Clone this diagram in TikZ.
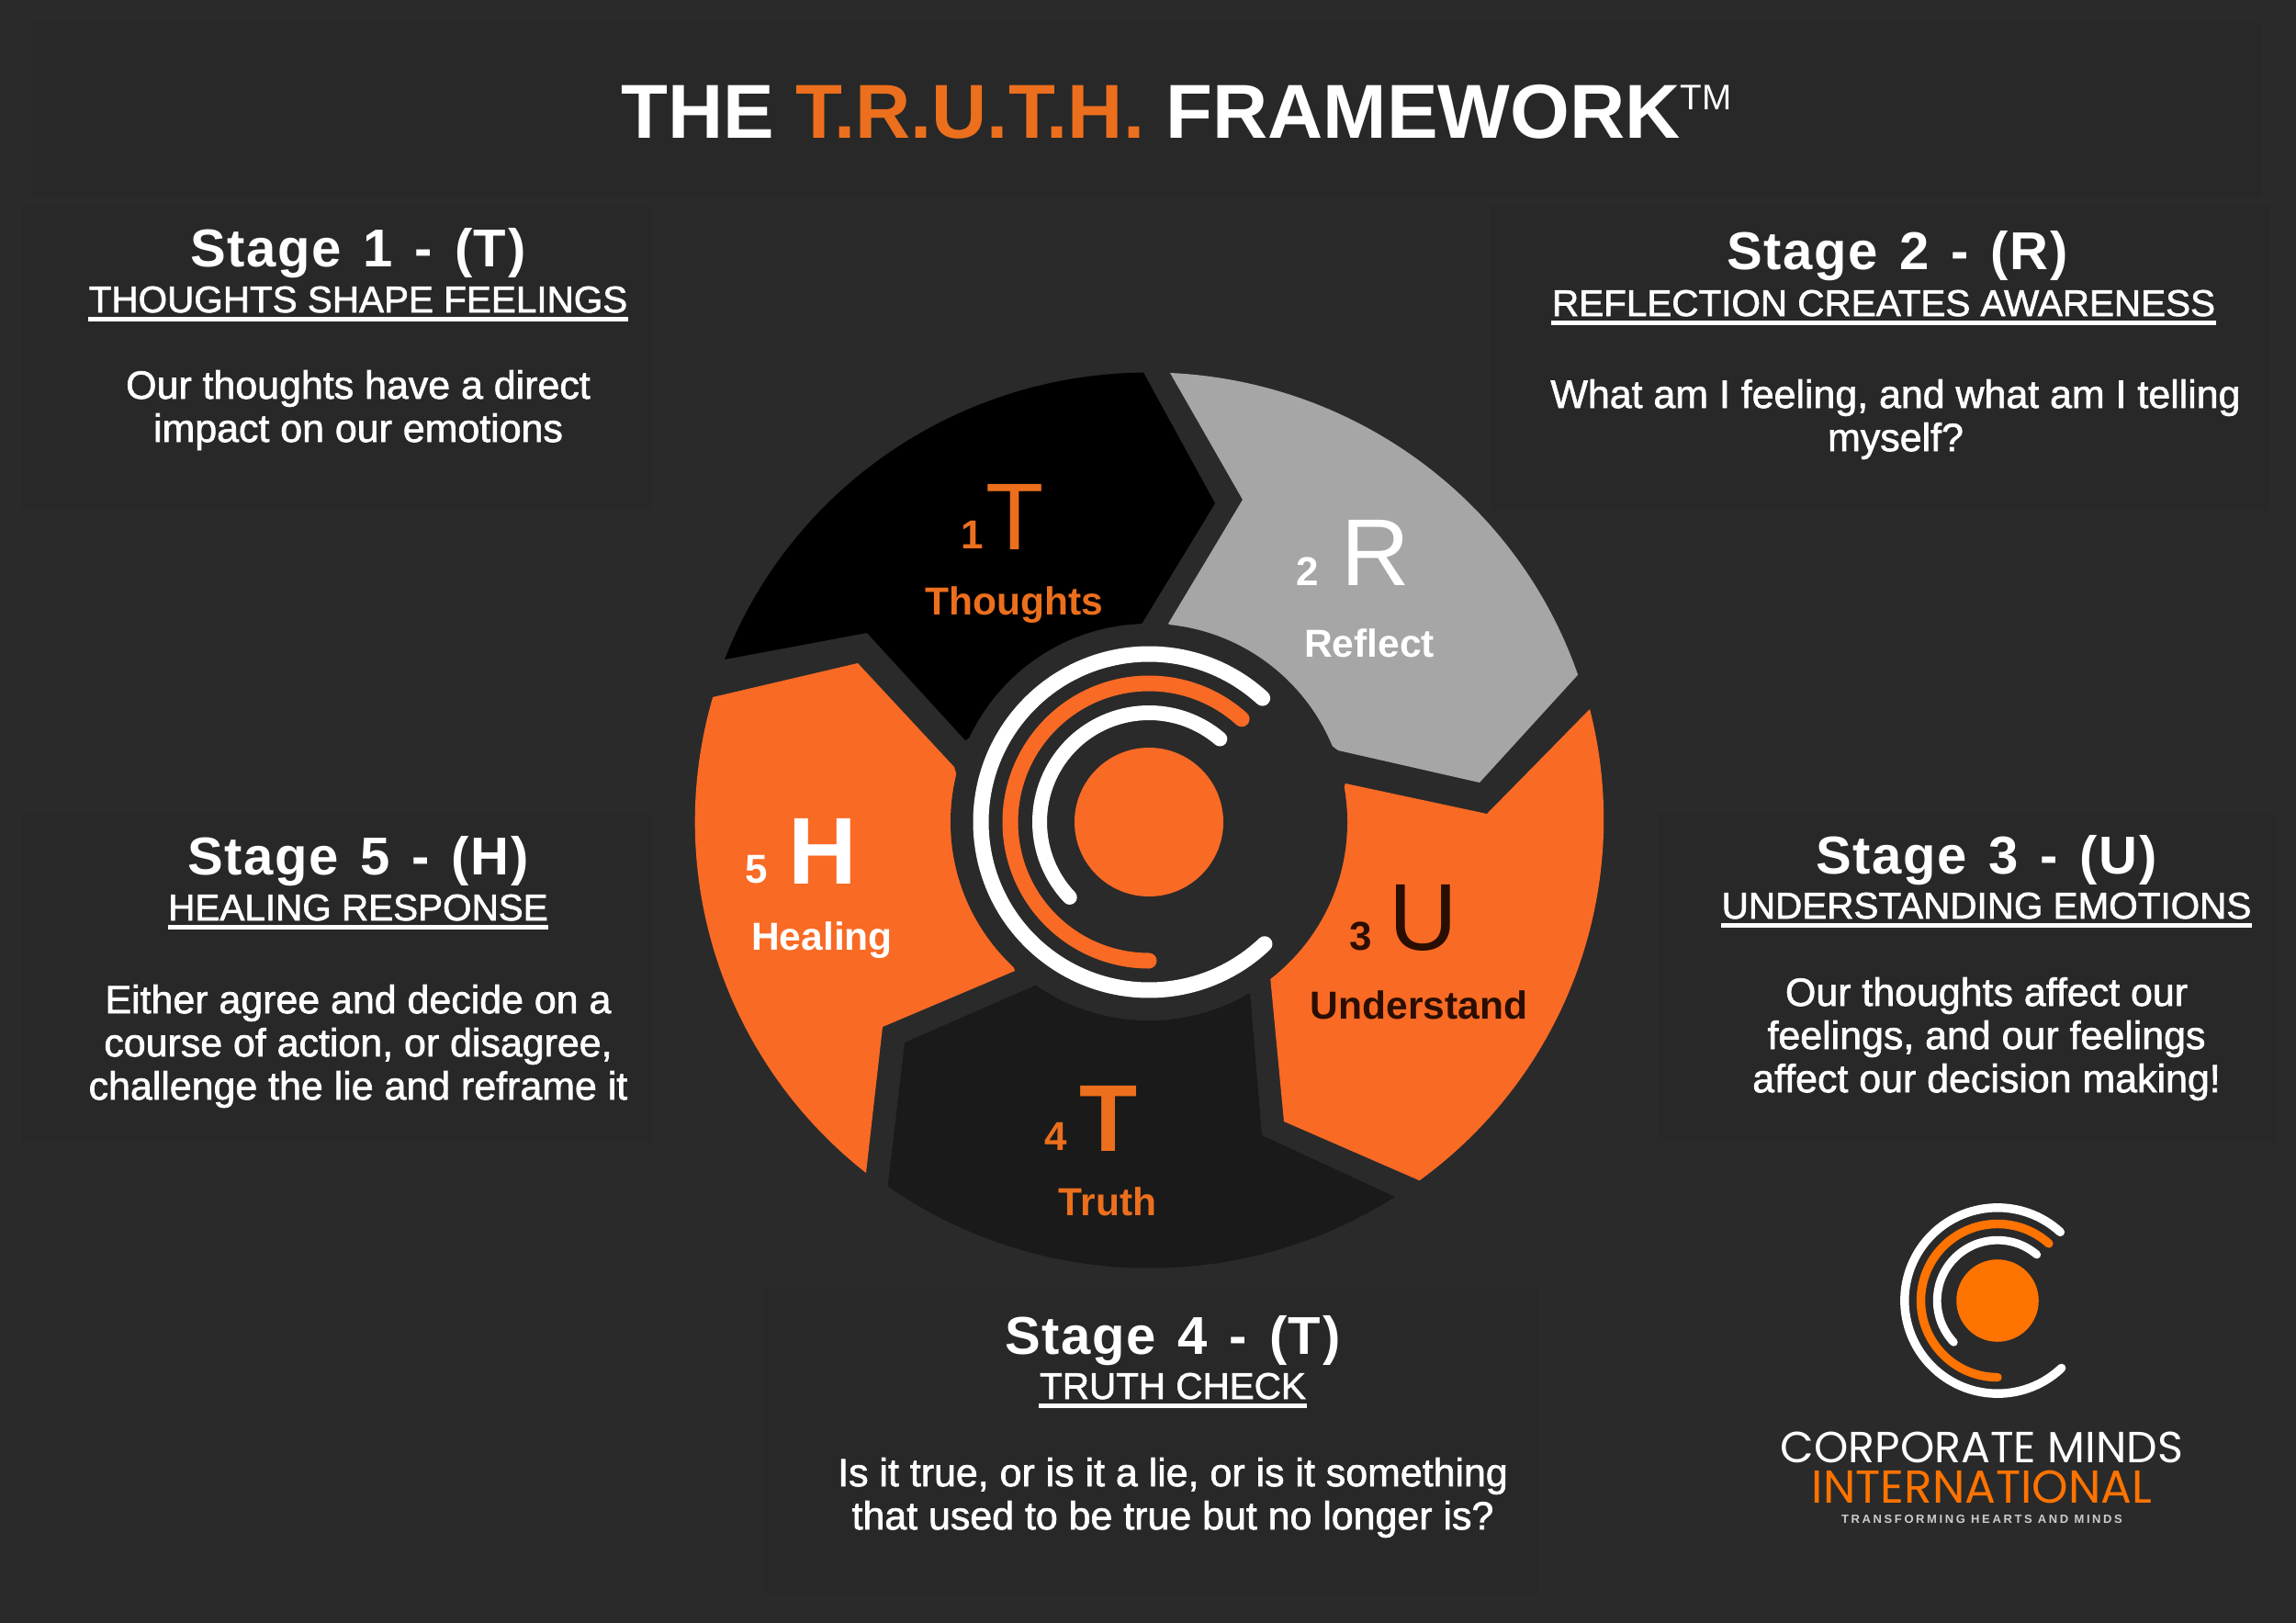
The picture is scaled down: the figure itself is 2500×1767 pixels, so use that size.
\documentclass[tikz,border=0pt]{standalone}
\usepackage{fontspec}
\usepackage{tikz}
\usetikzlibrary{positioning}
\setmainfont{Liberation Sans}
\newfontfamily\bodyfont{Liberation Sans}[RawFeature={embolden=1.6}]
\newfontfamily\stagefont{Liberation Sans Bold}[LetterSpace=2.7,WordSpace=1.35]
\newfontfamily\logofont{Poppins}
\definecolor{pagegrey}{HTML}{2A2A2A}
\definecolor{patchgrey}{HTML}{282828}
\definecolor{hubgrey}{HTML}{2A2A2A}
\definecolor{wheelorange}{HTML}{F96A25}
\definecolor{textorange}{HTML}{EC6F1D}
\definecolor{logoorange}{HTML}{FF7300}
\definecolor{reflectgrey}{HTML}{A6A6A6}
\definecolor{truthgrey}{HTML}{1A1A1A}
\definecolor{understandink}{HTML}{2A0E02}
\newcommand{\ringmark}[3]{
\begin{scope}[shift={(#1)},scale=#2,line cap=round]
\fill[#3] (0,0) circle[radius=81];
\draw[white,line width=#2*0.17cm] (47.5:183) arc[start angle=47.5,end angle=313.5,radius=183];
\draw[#3,line width=#2*0.17cm] (48:151) arc[start angle=48,end angle=270,radius=151];
\draw[white,line width=#2*0.16cm] (49.5:119) arc[start angle=49.5,end angle=223.5,radius=119];
\end{scope}
}
\begin{document}
\begin{tikzpicture}
    [x=0.01cm,y=0.01cm,
anchor=base,inner sep=0pt,
titletext/.style={font=\fontsize{23.7}{26}\bfseries\selectfont,text=white},
stagehead/.style={font=\fontsize{16.5}{19}\stagefont\selectfont,text=white},
stagesub/.style={font=\fontsize{11.5}{13}\bodyfont\selectfont,text=white},
stagebody/.style={font=\fontsize{12.2}{13.37}\bodyfont\selectfont,text=white,align=center},
subrule/.style={white,line width=0.05cm},
bigthin/.style={font=\fontsize{29.4}{32}\selectfont},
bigbold/.style={font=\fontsize{29.4}{32}\bfseries\selectfont},
stepnum/.style={font=\fontsize{12.5}{14}\bfseries\selectfont},
steplabel/.style={font=\fontsize{12.1}{14}\bfseries\selectfont},
patch/.style={fill=patchgrey}
]
\useasboundingbox (0,0) rectangle (2500,-1767);
\fill[pagegrey] (0,0) rectangle (2500,-1767);
\fill[patch] (35,-24) rectangle (2463,-215);
\fill[patch] (24,-223) rectangle (710,-555);
\fill[patch] (1623,-223) rectangle (2471,-555);
\fill[patch] (24,-885) rectangle (710,-1244);
\fill[patch] (1805,-885) rectangle (2479,-1244);
\fill[patch] (832,-1403) rectangle (1674,-1735);

\fill[black] (789,-718) arc[start angle=159,end angle=90.6,x radius=494,y radius=487] -- (1323,-548) -- (1242,-681) -- (1051,-806) -- (944,-689) -- cycle;
\fill[reflectgrey] (1274,-406) arc[start angle=87.3,end angle=18.9,x radius=494,y radius=487] -- (1611,-852) -- (1457,-817) -- (1272,-679) -- (1353,-544) -- cycle;
\fill[wheelorange] (1731,-772) arc[start angle=14.3,end angle=-53.8,x radius=490,y radius=487] -- (1398,-1221) -- (1383,-1063) -- (1465,-853) -- (1619,-886) -- cycle;
\fill[truthgrey] (1519,-1303) arc[start angle=-57.2,end angle=-125.2,x radius=494,y radius=487] -- (985,-1135) -- (1127,-1073) -- (1361,-1081) -- (1374,-1236) -- cycle;
\fill[wheelorange] (943,-1277) arc[start angle=231.7,end angle=163.8,x radius=490,y radius=487] -- (934,-722) -- (1039,-835) -- (1105,-1057) -- (961,-1118) -- cycle;
\fill[hubgrey] (1251,-895) circle[radius=216];
\ringmark{1251,-895}{1}{wheelorange}
\ringmark{2175,-1416}{0.553}{logoorange}

\node[titletext](title) at (1281,-151) {THE \textcolor{textorange}{T.R.U.T.H.} FRAMEWORK\raisebox{0.31cm}{\fontsize{11}{12}\mdseries\selectfont TM}};

\node[stagehead](head1) at (390,-291) {Stage 1 - (T)};
\node[stagesub](sub1)[below=0.49cm of head1.base,anchor=base] {THOUGHTS SHAPE FEELINGS};
\node[stagebody](body1)[below=1.41cm of sub1.base,anchor=base] {Our thoughts have a direct\\impact on our emotions};
\draw[subrule] ([yshift=-0.07cm]sub1.base west) -- ([yshift=-0.07cm]sub1.base east);

\node[stagehead](head2) at (2066,-294) {Stage 2 - (R)};
\node[stagesub](sub2)[below=0.50cm of head2.base,anchor=base,xshift=-0.15cm] {REFLECTION CREATES AWARENESS};
\node[stagebody](body2)[below=1.47cm of sub2.base,anchor=base,xshift=0.13cm] {What am I feeling, and what am I telling\\myself?};
\draw[subrule] ([yshift=-0.07cm]sub2.base west) -- ([yshift=-0.07cm]sub2.base east);

\node[stagehead](head3) at (2163,-951) {Stage 3 - (U)};
\node[stagesub](sub3)[below=0.49cm of head3.base,anchor=base] {UNDERSTANDING EMOTIONS};
\node[stagebody](body3)[below=1.89cm of sub3.base,anchor=base] {Our thoughts affect our\\feelings, and our feelings\\affect our decision making!};
\draw[subrule] ([yshift=-0.07cm]sub3.base west) -- ([yshift=-0.07cm]sub3.base east);

\node[stagehead](head4) at (1277,-1474) {Stage 4 - (T)};
\node[stagesub](sub4)[below=0.49cm of head4.base,anchor=base] {TRUTH CHECK};
\node[stagebody](body4)[below=1.42cm of sub4.base,anchor=base] {Is it true, or is it a lie, or is it something\\that used to be true but no longer is?};
\draw[subrule] ([yshift=-0.07cm]sub4.base west) -- ([yshift=-0.07cm]sub4.base east);

\node[stagehead](head5) at (390,-952) {Stage 5 - (H)};
\node[stagesub](sub5)[below=0.50cm of head5.base,anchor=base] {HEALING RESPONSE};
\node[stagebody](body5)[below=1.95cm of sub5.base,anchor=base] {Either agree and decide on a\\course of action, or disagree,\\challenge the lie and reframe it};
\draw[subrule] ([yshift=-0.07cm]sub5.base west) -- ([yshift=-0.07cm]sub5.base east);

\node[bigthin,text=textorange](letter1) at (1105,-598) {T};
\node[stepnum,text=textorange](num1) at (1059,-597) {1};
\node[steplabel,text=textorange](label1) at (1104,-669) {Thoughts};

\node[bigthin,text=white](letter2) at (1498,-637) {R};
\node[stepnum,text=white](num2) at (1424,-637) {2};
\node[steplabel,text=white](label2) at (1491,-715) {Reflect};

\node[bigthin,text=understandink](letter3) at (1550,-1034) {U};
\node[stepnum,text=understandink](num3) at (1482,-1034) {3};
\node[steplabel,text=understandink](label3) at (1545,-1109) {Understand};

\node[bigbold,text=textorange](letter4) at (1207,-1253) {T};
\node[stepnum,text=textorange](num4) at (1150,-1252) {4};
\node[steplabel,text=textorange](label4) at (1206,-1323) {Truth};

\node[bigbold,text=white](letter5) at (896,-962) {H};
\node[stepnum,text=white](num5) at (824,-961) {5};
\node[steplabel,text=white](label5) at (895,-1034) {Healing};

\node[font=\fontsize{13.5}{15}\logofont\selectfont,text=white](logoname) at (2158,-1592) {CORPORATE MINDS};
\node[font=\fontsize{14.3}{15}\logofont\selectfont,text=logoorange](logointl) at (2158,-1636) {INTERNATIONAL};
\node[font=\fontsize{3.7}{5}\bfseries\addfontfeature{LetterSpace=20}\selectfont,text=black!20](logotag) at (2158,-1658) {TRANSFORMING HEARTS AND MINDS};
\end{tikzpicture}
\end{document}
